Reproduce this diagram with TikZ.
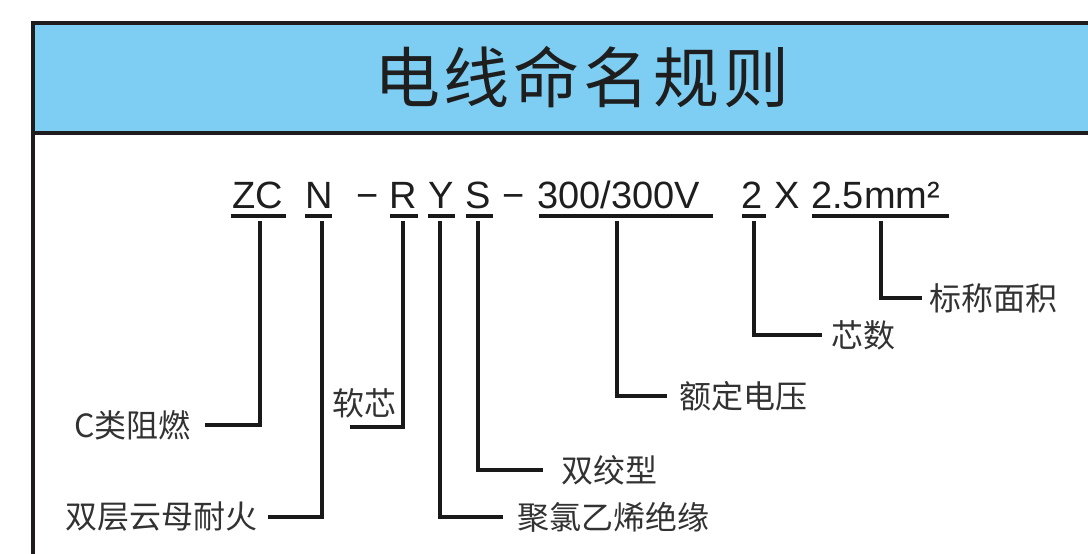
\documentclass[tikz,border=0pt]{standalone}
\usepackage{fontspec}
\setmainfont{Liberation Sans}
\newfontfamily\cjk{Noto Sans CJK SC}
\newfontfamily\cjktitle[LetterSpace=6]{Noto Sans CJK SC}
\definecolor{hdrblue}{RGB}{125,206,242}
\definecolor{frameink}{RGB}{30,28,28}
\definecolor{codeink}{RGB}{30,30,30}
\definecolor{labink}{RGB}{50,50,50}
\definecolor{lineink}{RGB}{25,25,25}
\tikzset{
  code/.style={font=\fontsize{38}{40}\selectfont, text=codeink, inner sep=0pt, anchor=base west},
  lab/.style={font=\cjk\fontsize{32}{35}\selectfont, text=labink, inner ysep=0pt, inner xsep=12pt},
  conn/.style={line width=3.5pt, draw=lineink},
  uline/.style={line width=3.5pt, draw=lineink},
}
\begin{document}
\begin{tikzpicture}[x=1pt,y=-1pt]
\useasboundingbox (0,0) rectangle (1088,554);
% frame and header
\fill[hdrblue] (33,23) rectangle (1088,133);
\draw[line width=4pt, draw=frameink] (1088,23) -- (33,23) -- (33,554);
\draw[line width=3.5pt, draw=frameink] (33,133) -- (1088,133);
\node[font=\cjktitle\fontsize{66}{70}\selectfont, text=codeink, inner sep=0pt] (title) at (582,77) {电线命名规则};
% code line
\node[code] (zc) at (232,208) {ZC};
\node[code] (n) at (305,208) {N};
\node[code] (d1) at (356,208) {−};
\node[code] (r) at (389,208) {R};
\node[code] (y) at (428,208) {Y};
\node[code] (s) at (465,208) {S};
\node[code] (d2) at (502,208) {−};
\node[code] (v) at (537,208) {300/300V};
\node[code] (two) at (741,208) {2};
\node[code] (x) at (774,208) {X};
\node[code] (area) at (811,208) {2.5mm²};
% underlines
\draw[uline] (231,216) -- (286,216);
\draw[uline] (305,216) -- (332,216);
\draw[uline] (390,216) -- (418,216);
\draw[uline] (428,216) -- (455,216);
\draw[uline] (466,216) -- (493,216);
\draw[uline] (539,216) -- (713,216);
\draw[uline] (742,216) -- (766,216);
\draw[uline] (812,216) -- (949,216);
% drop points
\coordinate (czc) at (260,221);
\coordinate (cn) at (322,221);
\coordinate (cr) at (403,221);
\coordinate (cy) at (440,221);
\coordinate (cs) at (478,221);
\coordinate (cv) at (617,221);
\coordinate (ctwo) at (754,221);
\coordinate (carea) at (881,221);
\coordinate (rend) at (350,427);
% labels
\node[lab, anchor=east, inner xsep=14pt] (lzc) at (205,425) {C类阻燃};
\node[lab, anchor=east, inner xsep=10pt] (ln) at (268,517) {双层云母耐火};
\node[lab, inner sep=0pt] (lr) at (364,403) {软芯};
\node[lab, anchor=west, inner xsep=14pt] (ly) at (503,517) {聚氯乙烯绝缘};
\node[lab, anchor=west, inner xsep=18pt] (ls) at (543,470) {双绞型};
\node[lab, anchor=west, inner xsep=12pt] (lv) at (667,396) {额定电压};
\node[lab, anchor=west, inner xsep=9pt] (ltwo) at (822,335) {芯数};
\node[lab, anchor=west, inner xsep=7pt] (larea) at (922,298) {标称面积};
% connectors
\draw[conn] (czc) |- (lzc.east);
\draw[conn] (cn) |- (ln.east);
\draw[conn] (cr) |- (rend);
\draw[conn] (cy) |- (ly.west);
\draw[conn] (cs) |- (ls.west);
\draw[conn] (cv) |- (lv.west);
\draw[conn] (ctwo) |- (ltwo.west);
\draw[conn] (carea) |- (larea.west);
\end{tikzpicture}
\end{document}
